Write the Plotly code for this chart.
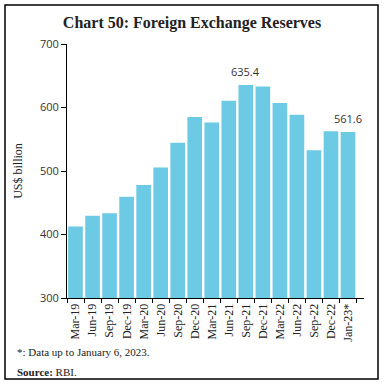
import plotly.graph_objects as go

categories = ["Mar-19", "Jun-19", "Sep-19", "Dec-19", "Mar-20", "Jun-20", "Sep-20", "Dec-20",
              "Mar-21", "Jun-21", "Sep-21", "Dec-21", "Mar-22", "Jun-22", "Sep-22", "Dec-22", "Jan-23*"]
reserves = [412.5, 429.5, 433.5, 459.5, 478.0, 505.5, 544.5, 585.0,
            576.5, 610.5, 635.4, 633.2, 607.0, 588.5, 532.5, 562.5, 561.6]
labelled = ["Sep-21", "Jan-23*"]

SERIF = "Liberation Serif, DejaVu Serif, serif"
SANS = "Open Sans, Liberation Sans, sans-serif"

fig = go.Figure()
fig.add_trace(go.Bar(
    x=categories, y=reserves, marker_color="#6CCAE4", marker_line_width=0,
))

for c, v in zip(categories, reserves):
    if c in labelled:
        fig.add_annotation(x=c, y=v, text=f"{v:.1f}", showarrow=False, yanchor="bottom", yshift=4,
                           font=dict(family=SANS, size=11, color="#333333"))

fig.update_layout(
    width=384, height=385,
    margin=dict(l=67, r=20, t=44, b=87),
    paper_bgcolor="white", plot_bgcolor="white",
    bargap=0.14, showlegend=False,
    title=dict(text="<b>Chart 50: Foreign Exchange Reserves</b>", x=0.5, xref="container", xanchor="center",
               y=1 - 22/385, yanchor="middle",
               font=dict(family=SERIF, size=16, color="#222222")),
)
fig.update_xaxes(
    type="category", tickangle=-90, showline=True, linecolor="black", linewidth=1,
    ticks="outside", tickson="boundaries", ticklen=4, tickcolor="black", showgrid=False,
    automargin=False,
    tickfont=dict(family=SERIF, size=12, color="#222222"),
)
fig.update_yaxes(
    range=[300, 700], tickvals=[300, 400, 500, 600, 700], showline=True, linecolor="black", linewidth=1,
    ticks="outside", ticklen=5, tickcolor="black", showgrid=False, zeroline=False,
    automargin=False,
    tickfont=dict(family=SANS, size=11, color="#333333"),
    title=dict(text="US$ billion", standoff=14,
               font=dict(family=SERIF, size=12, color="#222222")),
)

fig.add_shape(type="rect", xref="paper", yref="paper",
              x0=-62/297, x1=311/297, y0=-81/254, y1=1 + 39/254,
              line=dict(color="black", width=1.5), fillcolor="rgba(0,0,0,0)")

fig.add_annotation(text="*: Data up to January 6, 2023.", xref="paper", yref="paper",
                   x=-52/297, y=-(352-298)/254, xanchor="left", yanchor="middle", showarrow=False,
                   font=dict(family=SERIF, size=11, color="#222222"))
fig.add_annotation(text="<b>Source:</b> RBI.", xref="paper", yref="paper",
                   x=-52/297, y=-(372-298)/254, xanchor="left", yanchor="middle", showarrow=False,
                   font=dict(family=SERIF, size=11, color="#222222"))

fig.write_html("out.html", config={"displayModeBar": False},
               post_script="document.body.style.margin='0';")
